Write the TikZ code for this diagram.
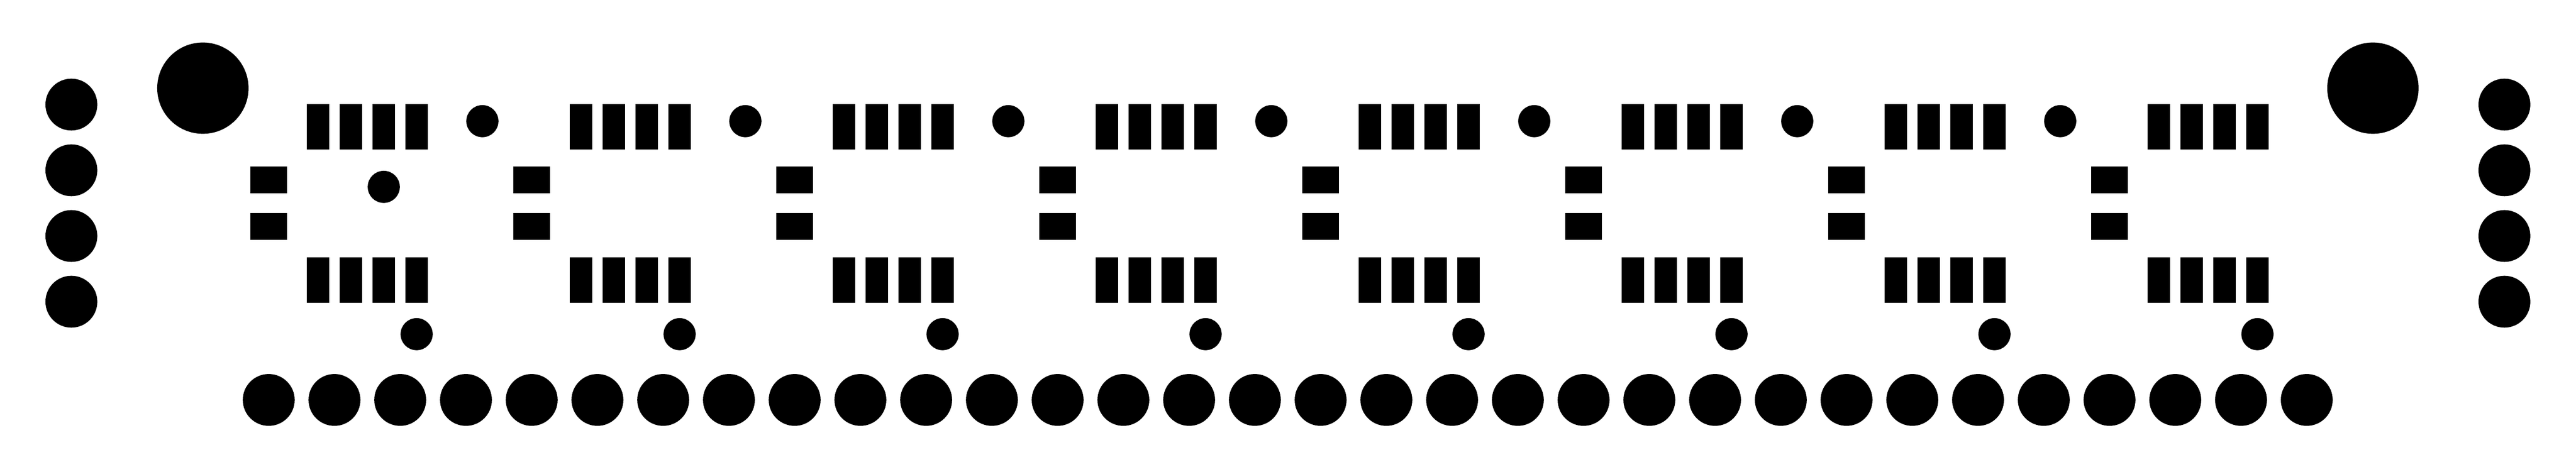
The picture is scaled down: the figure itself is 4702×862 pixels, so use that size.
\documentclass[tikz,border=0pt]{standalone}
\usepackage{tikz}

\begin{document}
\begin{tikzpicture}[x=0.01cm, y=-0.01cm, pad/.style={fill=black}]
  \fill[white] (0,0) rectangle (4702,862);
  % mounting holes and side pins
  \fill[pad] (370.3,161) circle (0.833cm);
  \fill[pad] (4331.3,161) circle (0.833cm);
  \foreach \y in {191,311,431,551} {
    \fill[pad] (130.3,\y) circle (0.473cm);
    \fill[pad] (4571.3,\y) circle (0.473cm);
  }
  % the eight cells
  \foreach \i in {0,...,7} {
    \begin{scope}[shift={(480*\i,0)}]
      \fill[pad] (457,304) rectangle (524,352.7);
      \fill[pad] (457,389) rectangle (524,437.7);
      \foreach \k in {0,...,3} {
        \fill[pad] (560+60*\k,190) rectangle (601+60*\k,272.7);
        \fill[pad] (560+60*\k,470) rectangle (601+60*\k,552.7);
      }
      \fill[pad] (760.5,610.3) circle (0.293cm);
    \end{scope}
  }
  \foreach \i in {0,...,6}
    \fill[pad] (880.5+480*\i,221.3) circle (0.293cm);
  \fill[pad] (700.5,341.3) circle (0.293cm);
  % bottom row
  \foreach \k in {0,...,31}
    \fill[pad] (490.5+120*\k,730.4) circle (0.473cm);
\end{tikzpicture}
\end{document}
